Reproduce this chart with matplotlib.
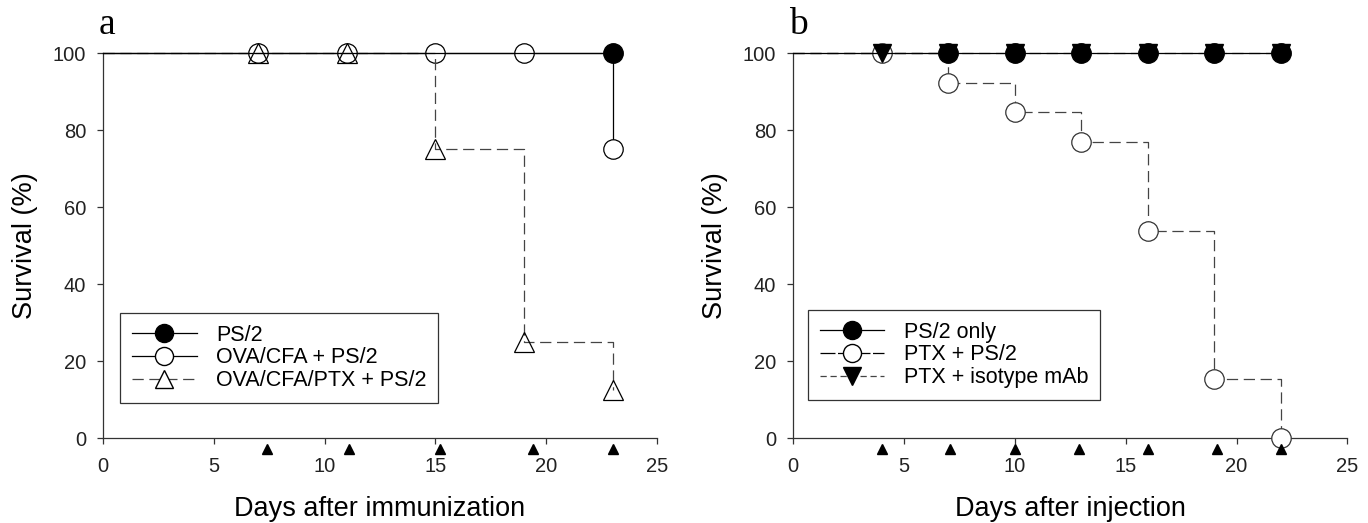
import matplotlib.pyplot as plt
from matplotlib.lines import Line2D

plt.rcParams["font.family"] = ["Liberation Sans", "DejaVu Sans"]

# panel a: days after immunization
a_days = [0, 7, 11, 15, 19, 23]
a_ps2 = [100, 100, 100, 100, 100, 100]
a_ova = [100, 100, 100, 100, 100, 75]
a_ptx = [100, 100, 100, 75, 25, 12.5]
a_arrows = [7.4, 11.1, 15.2, 19.4, 23.0]
a_labels = ["PS/2", "OVA/CFA + PS/2", "OVA/CFA/PTX + PS/2"]

# panel b: days after injection
b_days = [0, 4, 7, 10, 13, 16, 19, 22]
b_ps2 = [100, 100, 100, 100, 100, 100, 100, 100]
b_ptx = [100, 100, 92.3, 84.6, 76.9, 53.8, 15.4, 0]
b_iso = [100, 100, 100, 100, 100, 100, 100, 100]
b_arrows = [4.0, 7.1, 10.0, 12.9, 16.0, 19.1, 22.0]
b_labels = ["PS/2 only", "PTX + PS/2", "PTX + isotype mAb"]

DASH = (0, (9, 4.5))
GRAY = "#444444"
MS = 14


def style_axes(ax, xlabel):
    ax.set_xlim(0, 25)
    ax.set_ylim(0, 100)
    ax.set_xticks([0, 5, 10, 15, 20, 25])
    ax.set_yticks([0, 20, 40, 60, 80, 100])
    for s in ["top", "right"]:
        ax.spines[s].set_visible(False)
    for s in ["left", "bottom"]:
        ax.spines[s].set_linewidth(0.9)
        ax.spines[s].set_color("#333333")
    ax.tick_params(direction="out", length=4, width=0.9, labelsize=14.5,
                   color="#333333", labelcolor="#222222")
    ax.tick_params(axis="x", pad=10)
    ax.tick_params(axis="y", pad=8)
    ax.set_xlabel(xlabel, fontsize=19.5, labelpad=14)
    ax.set_ylabel("Survival (%)", fontsize=19.5, labelpad=11)


def arrows(ax, days):
    ax.plot(days, [-2.8] * len(days), "^", color="black", ms=7,
            clip_on=False, zorder=6)


fig = plt.figure(figsize=(13.68, 5.23), dpi=100)
ax1 = fig.add_axes([0.0753, 0.1625, 0.405, 0.736])
ax2 = fig.add_axes([0.5797, 0.1625, 0.4053, 0.736])

# ---- panel a
ax1.plot(a_days, a_ova, drawstyle="steps-post", color="black", lw=0.9,
         marker="o", ms=MS, mfc="white", mec="black", mew=0.9,
         markevery=[1, 2, 3, 4, 5], clip_on=False, zorder=3)
ax1.plot(a_days, a_ptx, drawstyle="steps-post", color=GRAY, lw=0.9,
         linestyle=DASH, marker="^", ms=MS, mfc="none", mec="black",
         mew=0.9, markevery=[1, 2, 3, 4, 5], clip_on=False, zorder=4)
ax1.plot(a_days, a_ps2, drawstyle="steps-post", color="black", lw=0.9,
         marker="o", ms=MS, mfc="black", mec="black",
         markevery=[5], clip_on=False, zorder=5)
arrows(ax1, a_arrows)
style_axes(ax1, "Days after immunization")

h1 = [
    Line2D([], [], color="black", lw=0.9, marker="o", ms=MS - 1, mfc="black", mec="black"),
    Line2D([], [], color="black", lw=0.9, marker="o", ms=MS - 1, mfc="white", mec="black"),
    Line2D([], [], color=GRAY, lw=0.9, linestyle=DASH, marker="^", ms=MS - 1,
           mfc="white", mec="black"),
]
ax1.legend(h1, a_labels, loc="lower left", bbox_to_anchor=(0.031, 0.091),
           borderaxespad=0, fontsize=15.5, fancybox=False, framealpha=1,
           edgecolor="#333333", handlelength=3.0, handletextpad=0.9,
           labelspacing=0.08, borderpad=0.55).get_frame().set_linewidth(0.9)

# ---- panel b
ax2.plot(b_days, b_ptx, drawstyle="steps-post", color=GRAY, lw=0.9,
         linestyle=DASH, marker="o", ms=MS, mfc="white", mec="#333333",
         mew=0.9, markevery=[1, 2, 3, 4, 5, 6, 7], clip_on=False, zorder=3)
ax2.plot(b_days, b_iso, drawstyle="steps-post", color=GRAY, lw=0.9,
         linestyle=DASH, marker="v", ms=MS - 1, mfc="black", mec="black",
         markevery=[1, 2, 3, 4, 5, 6, 7], clip_on=False, zorder=4)
ax2.plot(b_days, b_ps2, drawstyle="steps-post", color="black", lw=0.9,
         marker="o", ms=MS, mfc="black", mec="black",
         markevery=[2, 3, 4, 5, 6, 7], clip_on=False, zorder=5)
arrows(ax2, b_arrows)
style_axes(ax2, "Days after injection")

h2 = [
    Line2D([], [], color="black", lw=0.9, marker="o", ms=MS - 1, mfc="black", mec="black"),
    Line2D([], [], color="black", lw=0.9, linestyle=(0, (12, 2)), marker="o",
           ms=MS - 1, mfc="white", mec="black"),
    Line2D([], [], color=GRAY, lw=0.9, linestyle=(0, (5, 3)), marker="v",
           ms=MS - 1, mfc="black", mec="black"),
]
ax2.legend(h2, b_labels, loc="lower left", bbox_to_anchor=(0.027, 0.099),
           borderaxespad=0, fontsize=15.5, fancybox=False, framealpha=1,
           edgecolor="#333333", handlelength=3.0, handletextpad=0.9,
           labelspacing=0.08, borderpad=0.55).get_frame().set_linewidth(0.9)

fig.text(0.072, 0.953, "a", fontsize=27, family="Liberation Serif", va="center")
fig.text(0.577, 0.953, "b", fontsize=27, family="Liberation Serif", va="center")

fig.savefig("out.png", dpi=100)
